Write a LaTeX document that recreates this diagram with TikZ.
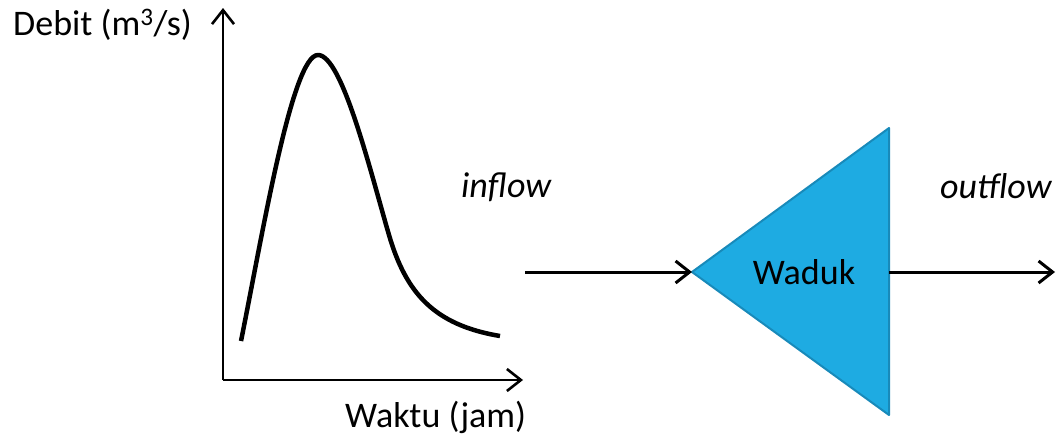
\documentclass[tikz,border=0pt]{standalone}
\usepackage{fontspec}
\setmainfont{Carlito}
\usetikzlibrary{arrows.meta}
\definecolor{wadukfill}{RGB}{30,171,226}
\definecolor{wadukedge}{RGB}{24,138,186}
\tikzset{
  lbl/.style={inner sep=0pt, font=\fontsize{36}{42}\selectfont},
  axisline/.style={line width=2.6pt, -{Straight Barb[length=14pt,width=22pt,line width=2.6pt]}},
  flowarrow/.style={line width=3pt, -{Straight Barb[length=14pt,width=22pt,line width=3pt]}},
  curveline/.style={line width=4.5pt, line cap=butt, line join=round},
  tri/.style={fill=wadukfill, draw=wadukedge, line width=2pt, line join=round}
}
\begin{document}
\begin{tikzpicture}[x=1pt,y=-1pt]
\useasboundingbox (0,0) rectangle (1056,439);
% axes
\coordinate (O) at (223,380);
\coordinate (ytop) at (223,8);
\coordinate (xend) at (523,380);
\draw[axisline] (O) -- (ytop);
\draw[axisline] (O) -- (xend);
% hydrograph
\coordinate (cstart) at (241,341);
\coordinate (cpeak) at (318,55);
\coordinate (cmid) at (389,235);
\coordinate (cend) at (500,336);
\draw[curveline] (cstart) .. controls (262,237) and (292,55) .. (cpeak)
  .. controls (342,55) and (370,170) .. (cmid)
  .. controls (406,293) and (434,325) .. (cend);
% labels
\node[lbl, anchor=base west] (debit) at (13,35) {Debit (m\textsuperscript{3}/s)};
\node[lbl, anchor=base west] (waktu) at (345,427) {Waktu (jam)};
\node[lbl, anchor=base west] (inflow) at (461,197) {\itshape inflow};
\node[lbl, anchor=base west] (outflow) at (940,198) {\itshape outflow};
% reservoir
\coordinate (apex) at (692,272);
\coordinate (tt) at (889,128);
\coordinate (tb) at (889,415);
\coordinate (rmid) at (889,272);
\draw[tri] (apex) -- (tt) -- (tb) -- cycle;
\node[lbl] (waduk) at (804,272) {Waduk};
% flows
\coordinate (instart) at (525,272);
\coordinate (outend) at (1055,272);
\draw[flowarrow] (instart) -- (apex);
\draw[flowarrow] (rmid) -- (outend);
\end{tikzpicture}
\end{document}
